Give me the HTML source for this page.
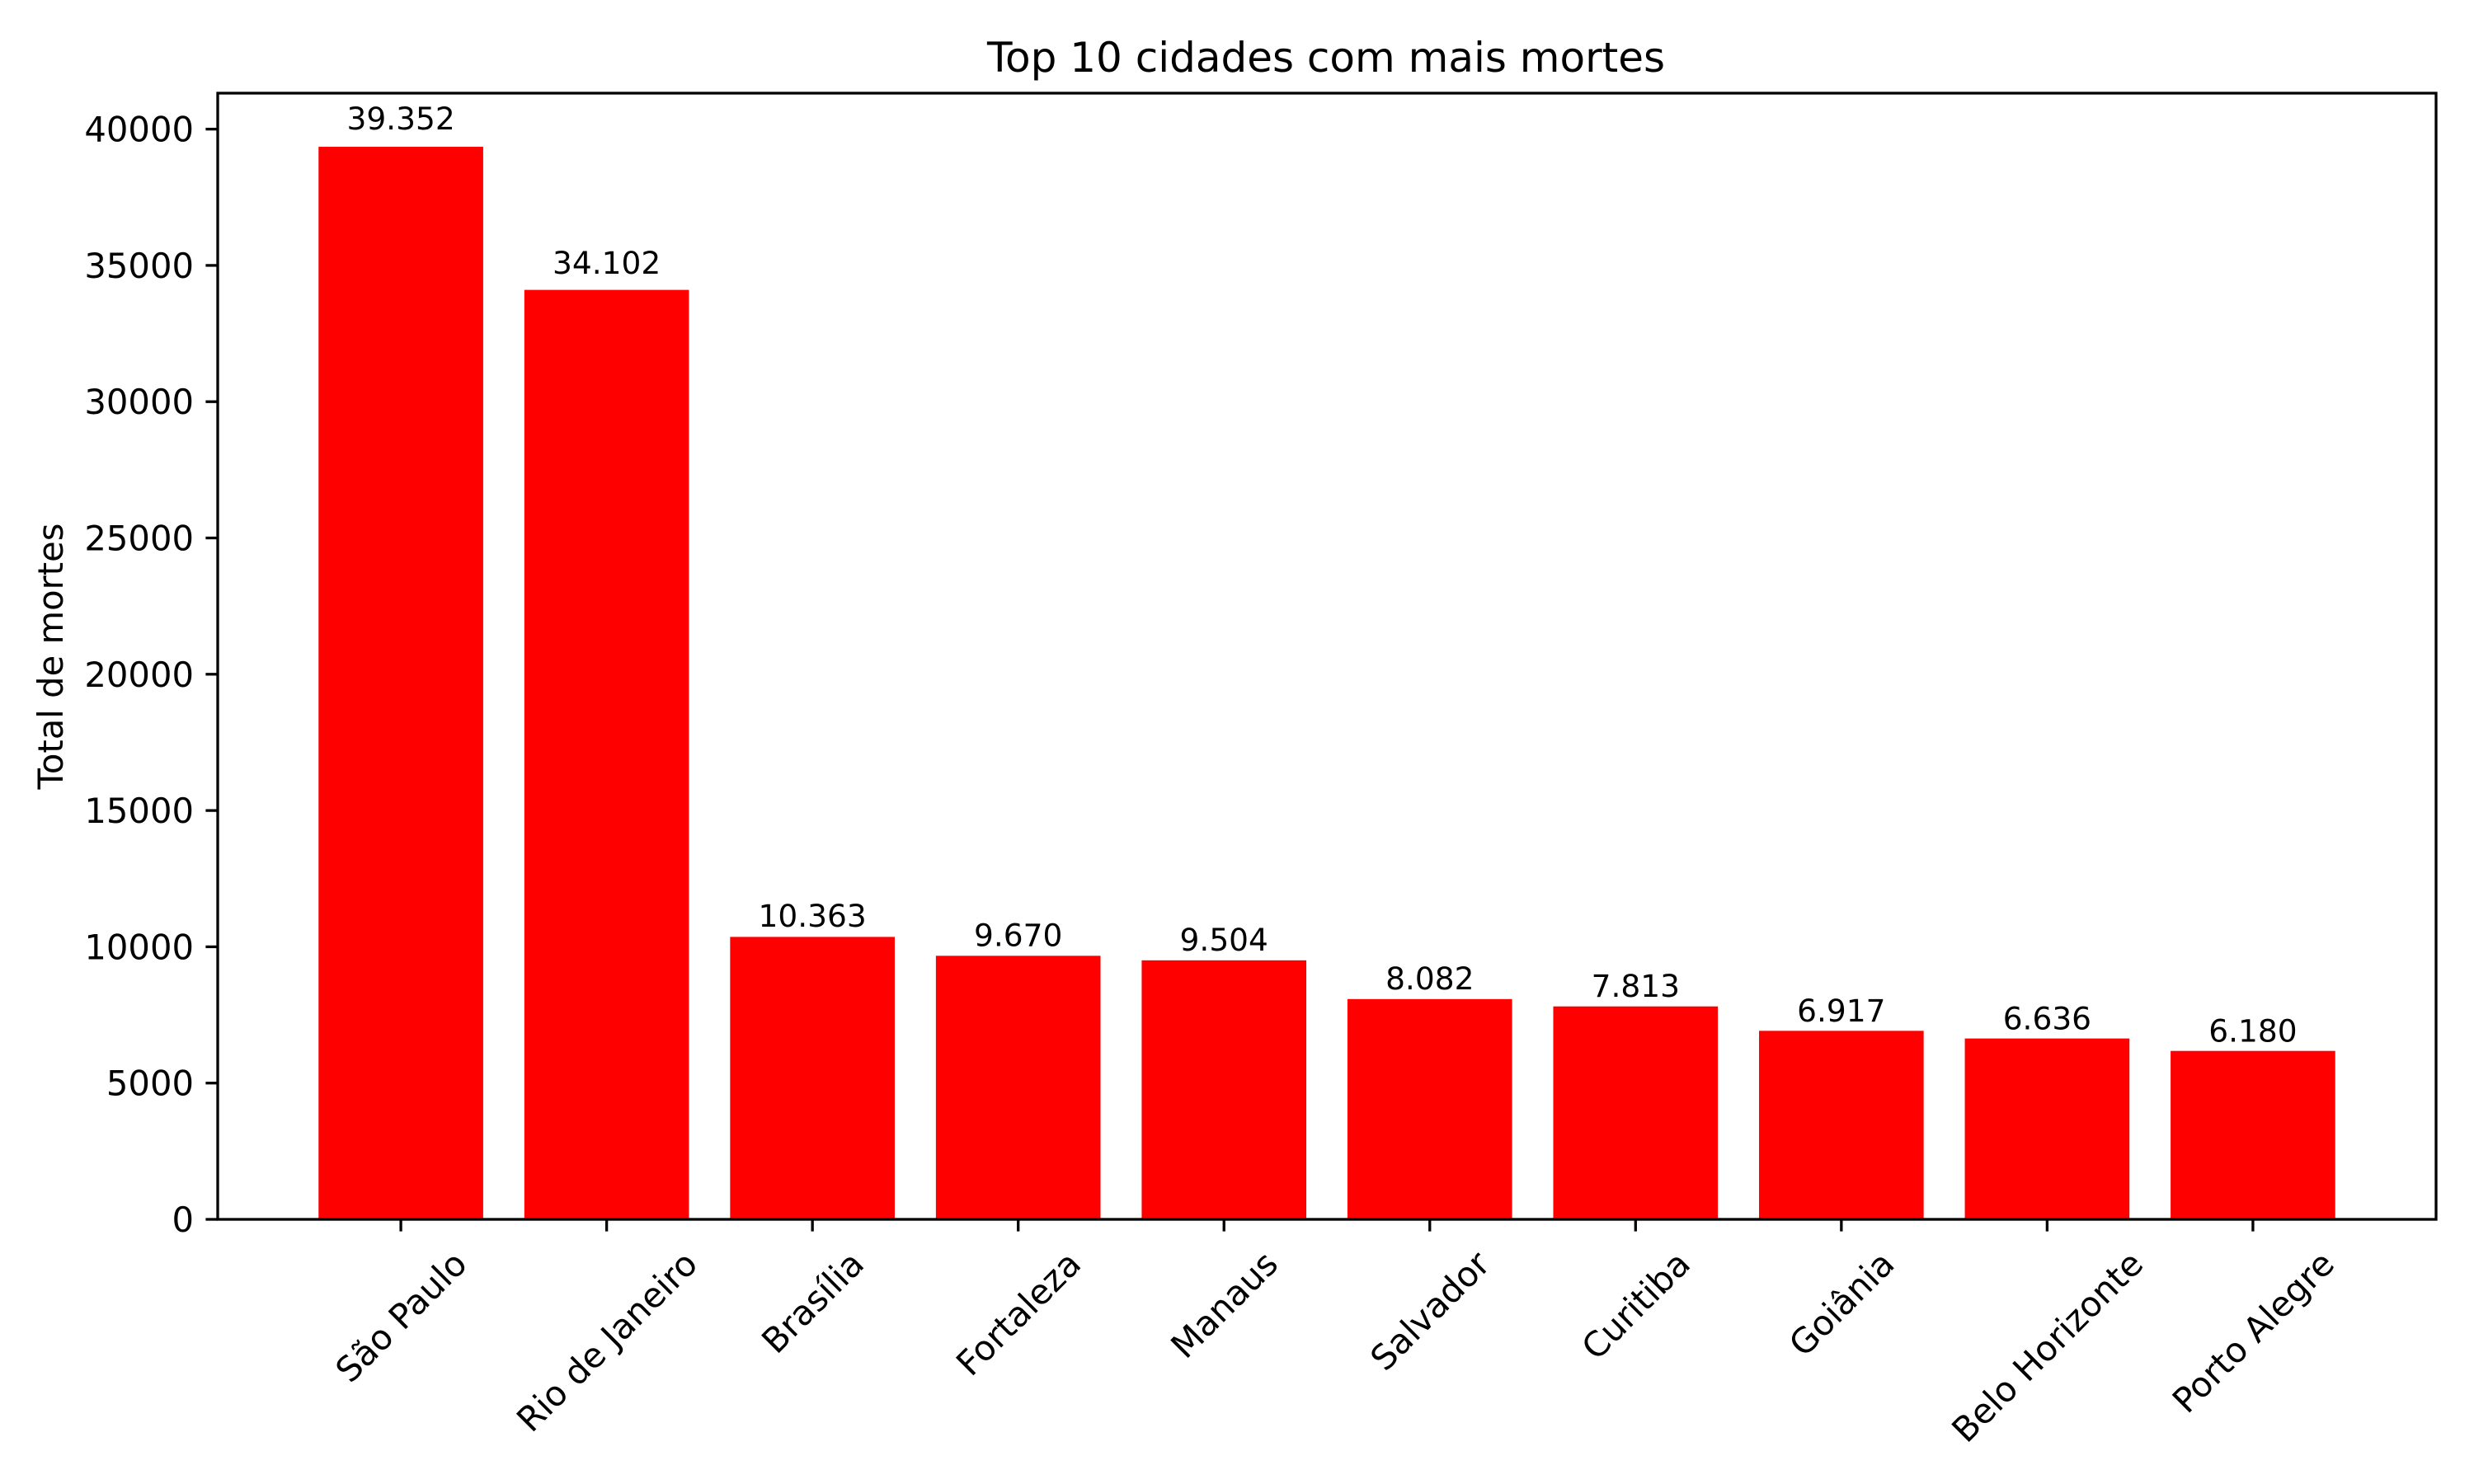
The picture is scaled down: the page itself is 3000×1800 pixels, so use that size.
<!DOCTYPE html>
<html><head><meta charset="utf-8">
<style>
html,body{margin:0;padding:0;background:#fff;}
svg{display:block;font-family:"DejaVu Sans","Liberation Sans",sans-serif;}
</style></head>
<body>
<svg id="chart" width="3000" height="1800" viewBox="0 0 3000 1800" xmlns="http://www.w3.org/2000/svg">
<rect x="0" y="0" width="3000" height="1800" fill="#fff"/>
<text x="1608" y="87" font-size="50" text-anchor="middle">Top 10 cidades com mais mortes</text>
<text transform="translate(76,796) rotate(-90)" font-size="41.7" text-anchor="middle">Total de mortes</text>
<g id="bars"></g>
<g id="yaxis"></g>
<g id="xaxis"></g>
<rect x="264" y="113" width="2690" height="1366" fill="none" stroke="#000" stroke-width="3.3"/>
</svg>
<script>
const categories = ["São Paulo","Rio de Janeiro","Brasília","Fortaleza","Manaus","Salvador","Curitiba","Goiânia","Belo Horizonte","Porto Alegre"];
const deaths = [39352,34102,10363,9670,9504,8082,7813,6917,6636,6180];
const valueLabels = ["39.352","34.102","10.363","9.670","9.504","8.082","7.813","6.917","6.636","6.180"];
const yTicks = [0,5000,10000,15000,20000,25000,30000,35000,40000];

const NS="http://www.w3.org/2000/svg";
const L=264,R=2954,T=113,B=1479;
const n=categories.length;
const xmin=-0.4-0.05*(n-0.2), xmax=(n-1)+0.4+0.05*(n-0.2);
const ymax=Math.max(...deaths)*1.05;
function xs(v){return L+(v-xmin)/(xmax-xmin)*(R-L);}
function ys(v){return B-v/ymax*(B-T);}
function mk(tag,attrs,parent){const e=document.createElementNS(NS,tag);for(const k in attrs)e.setAttribute(k,attrs[k]);parent.appendChild(e);return e;}

const gb=document.getElementById('bars');
const gy=document.getElementById('yaxis');
const gx=document.getElementById('xaxis');
const bw=xs(0.4)-xs(-0.4);

deaths.forEach((d,i)=>{
  const x=xs(i)-bw/2, y=ys(d);
  const r=mk('rect',{x:x,y:y,width:bw,height:B-y,fill:'#ff0000'},gb);
  
  
  const gap=9.15+0.0003*d;
  const t=mk('text',{x:xs(i),y:y-gap,'font-size':37.5,'text-anchor':'middle'},gb);
  t.textContent=valueLabels[i];
  
  
});

yTicks.forEach(v=>{
  const y=ys(v);
  const ln=mk('line',{x1:L-14.6,x2:L,y1:y,y2:y,stroke:'#000','stroke-width':3.3},gy);
  
  
  const t=mk('text',{x:L-29,y:y+15,'font-size':41.7,'text-anchor':'end'},gy);
  t.textContent=String(v);
  
  
});

categories.forEach((c,i)=>{
  const x=xs(i);
  const ln=mk('line',{x1:x,x2:x,y1:B,y2:B+14.6,stroke:'#000','stroke-width':3.3},gx);
  
  
  const t=mk('text',{'font-size':41.7,'text-anchor':'middle'},gx);
  t.textContent=c;
  
  
  const w=t.getComputedTextLength(), h=48;
  const cy=B+29+(w+h)/(2*Math.SQRT2);
  t.setAttribute('transform','translate('+x+','+cy+') rotate(-45)');
  t.setAttribute('y',15);
});
</script>
</body></html>
